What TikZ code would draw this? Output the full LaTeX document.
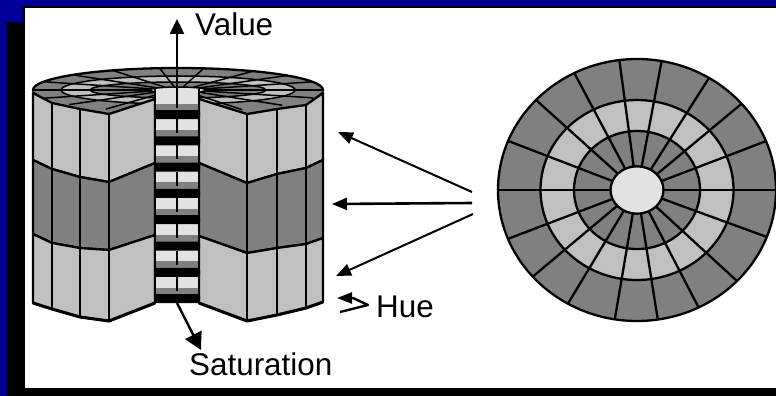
\documentclass[tikz,border=0pt]{standalone}
\usepackage{fontspec}
\setmainfont{Liberation Sans}
\usetikzlibrary{positioning,arrows.meta}
\definecolor{SlideBlue}{RGB}{0,0,153}
\definecolor{DarkBand}{RGB}{128,128,128}
\definecolor{LightBand}{RGB}{192,192,192}
\definecolor{PaleGray}{RGB}{226,226,226}
\tikzset{
	outline/.style={draw=black,line width=2.3pt,line join=round},
	spoke/.style={black,line width=2.3pt},
	thinspoke/.style={black,line width=1.5pt},
	lab/.style={inner sep=0pt,anchor=base west,font=\fontsize{31.4}{36}\selectfont},
	bigarrow/.style={line width=2.4pt,-{Triangle[length=15pt,width=14pt]}},
	satarrow/.style={line width=2.4pt,-{Triangle[length=17pt,width=18pt]}},
	huearrow/.style={line width=2.4pt,line join=round,-{Triangle[length=15pt,width=11pt]}},
	smallarrow/.style={line width=2pt,line join=round,-{Triangle[length=15pt,width=12pt]}}
}
\begin{document}
\begin{tikzpicture}[x=1pt,y=-1pt]
	% slide background
	\fill[SlideBlue] (0,0) rectangle (776,396);
	\fill[black] (7,22) rectangle (776,396);
	\fill[black] (23,6) rectangle (776,22);
	\fill[white] (25,8) rectangle (776,388);
	\useasboundingbox (0,0) rectangle (776,396);

	% top of the cylinder
	\begin{scope}[shift={(178,90)}]
		\draw[outline,fill=DarkBand] (0,0) ellipse [x radius=145,y radius=22];
		\fill[DarkBand] (-145,1) -- (-126,13) -- (-98,19) -- (-69,24) -- (-23,9) -- (21,9) -- (69,24) -- (99,19) -- (128,15) -- (145,1) -- cycle;
		\draw[thinspoke,fill=LightBand] (0,0) ellipse [x radius=117,y radius=14];
		\draw[thinspoke,fill=DarkBand] (0,0) ellipse [x radius=88,y radius=8];
		\draw[thinspoke,fill=PaleGray] (0,0) ellipse [x radius=28,y radius=3];
		\foreach \a in {0,21.9,41.2,58.8,79.8,97.3,116.8,136.6,158,180,201.9,221.4,240.2,260.8,278.6,296.3,316,339}
			\draw[thinspoke] (-\a:28 and 3) -- (-\a:145 and 22);
	\end{scope}

	% bands of the cylinder, left and right of the cut
	\draw[outline,fill=LightBand] (33,93) -- (52,103) -- (80,109) -- (109,114) -- (155,99) -- (155,163) -- (109,182) -- (80,177) -- (52,169) -- (33,160) -- cycle;
	\draw[outline,fill=DarkBand] (33,160) -- (52,169) -- (80,177) -- (109,182) -- (155,163) -- (155,235) -- (109,250) -- (80,248) -- (52,243) -- (33,234) -- cycle;
	\draw[outline,fill=LightBand] (33,234) -- (52,243) -- (80,248) -- (109,250) -- (155,235) -- (155,303) -- (109,321) -- (80,317) -- (52,309) -- (33,303) -- cycle;
	\draw[outline,fill=LightBand] (199,99) -- (247,114) -- (277,109) -- (306,105) -- (323,93) -- (323,160) -- (306,168) -- (277,174) -- (247,183) -- (199,163) -- cycle;
	\draw[outline,fill=DarkBand] (199,163) -- (247,183) -- (277,174) -- (306,168) -- (323,160) -- (323,238) -- (306,244) -- (277,248) -- (247,253) -- (199,236) -- cycle;
	\draw[outline,fill=LightBand] (199,236) -- (247,253) -- (277,248) -- (306,244) -- (323,238) -- (323,302) -- (306,308) -- (277,315) -- (247,321) -- (199,303) -- cycle;
	\foreach \x/\ya/\yb in {52/103/309,80/109/317,109/114/321,247/114/321,277/109/315,306/105/308}
		\draw[spoke] (\x,\ya) -- (\x,\yb);
	\draw[line width=3pt,line join=round] (33,303) -- (52,309) -- (80,317) -- (109,321) -- (155,303);
	\draw[line width=3pt,line join=round] (199,303) -- (247,321) -- (277,315) -- (306,308) -- (323,302);

	% column in the cut
	\fill[PaleGray] (155,89) rectangle (199,303);
	\foreach \y in {119,145.3,171.6,197.9,224.2,250.5,276.8,303} {
		\fill[DarkBand] (155,\y-15.5) rectangle (199,\y-8);
		\fill[black,rounded corners=2pt] (154,\y-9) rectangle (200,\y);
	}
	\draw[line width=2pt,black] (155,89) -- (155,303);
	\draw[line width=2pt,black] (199,89) -- (199,303);
	\foreach \y in {119,145.3,171.6,197.9,224.2,250.5,276.8}
		\draw[spoke] (177,\y) -- (177,\y+14);

	% axes
	\coordinate (valuefoot) at (177,108);
	\coordinate (valuetip) at (177,19);
	\draw[bigarrow] (valuefoot) -- (valuetip);
	\node[lab] (valuelabel) at (195,36) {Value};
	\coordinate (satfoot) at (177,303);
	\coordinate (sattip) at (201,350);
	\draw[satarrow] (satfoot) -- (sattip);
	\node[lab] (satlabel) at (189,375) {Saturation};
	\coordinate (huefoot) at (340,312);
	\coordinate (huebend) at (368,305);
	\coordinate (huetip) at (337,298);
	\draw[huearrow] (huefoot) -- (352,309) -- (huebend) -- (353,298) -- (huetip);
	\node[lab] (huelabel) at (376,317) {Hue};

	% arrows from the disk to the bands
	\coordinate (topfoot) at (472,192);
	\coordinate (toptip) at (338,132);
	\coordinate (midfoot) at (472,203);
	\coordinate (midtip) at (332,204);
	\coordinate (lowfoot) at (473,214);
	\coordinate (lowtip) at (336,276);
	\draw[smallarrow] (topfoot) -- (toptip);
	\draw[smallarrow,line width=2.6pt] (midfoot) -- (midtip);
	\draw[smallarrow] (lowfoot) -- (lowtip);

	% disk seen from above
	\begin{scope}[shift={(637,190)}]
		\draw[outline,fill=DarkBand] (0,0) ellipse [x radius=139,y radius=131];
		\draw[outline,fill=LightBand] (0,0) ellipse [x radius=96.5,y radius=90];
		\draw[outline,fill=DarkBand] (0,0) ellipse [x radius=63,y radius=59];
		\foreach \a in {0,21.9,41.2,58.8,79.8,97.3,116.8,136.6,158,180,201.9,221.4,240.2,260.8,278.6,296.3,316,339}
			\draw[spoke] (-\a:26 and 23.5) -- (-\a:139 and 131);
		\draw[outline,fill=PaleGray] (0,0) ellipse [x radius=26.5,y radius=23.7];
	\end{scope}
\end{tikzpicture}
\end{document}
